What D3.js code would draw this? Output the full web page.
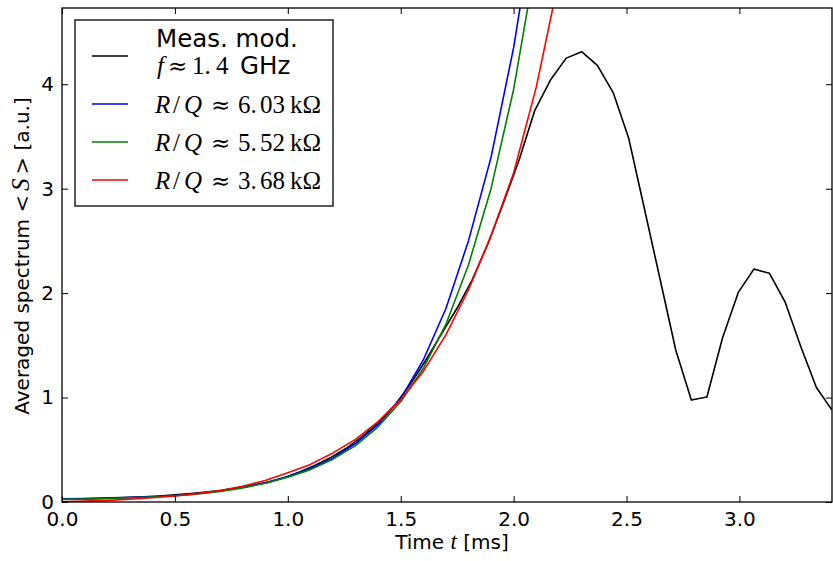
<!DOCTYPE html>
<html><head><meta charset="utf-8">
<script src="https://cdn.jsdelivr.net/npm/d3@7"></script>
<style>
body{margin:0;background:#fff;}
svg{display:block;}
text{font-family:"DejaVu Sans",sans-serif;fill:#000;}
.m{font-family:"Liberation Serif","DejaVu Serif",serif;}
.op{font-family:"DejaVu Serif",serif;}
</style></head><body>
<svg id="c" width="833" height="561"></svg>
<script>
// ---- data ----
const tMeas = [0.016,0.085,0.154,0.223,0.293,0.362,0.431,0.500,0.570,0.639,0.708,0.778,0.847,0.916,0.986,1.055,1.124,1.193,1.263,1.332,1.401,1.471,1.540,1.609,1.678,1.748,1.817,1.886,1.956,2.025,2.094,2.163,2.233,2.302,2.371,2.441,2.510,2.579,2.648,2.718,2.787,2.856,2.925,2.995,3.064,3.133,3.202,3.272,3.341,3.410];
const sMeas = [0.030,0.030,0.035,0.040,0.045,0.050,0.058,0.068,0.080,0.095,0.113,0.135,0.160,0.190,0.235,0.290,0.355,0.430,0.520,0.630,0.760,0.920,1.120,1.350,1.600,1.850,2.130,2.470,2.870,3.280,3.750,4.040,4.250,4.310,4.180,3.920,3.480,2.810,2.140,1.455,0.976,1.005,1.570,2.007,2.230,2.190,1.917,1.486,1.097,0.880];
const tModel = [0.0,0.1,0.2,0.3,0.4,0.5,0.6,0.7,0.8,0.9,1.0,1.1,1.2,1.3,1.4,1.5,1.6,1.7,1.8,1.9,2.0,2.1,2.2];
const sBlue  = [0.030,0.032,0.036,0.042,0.050,0.062,0.080,0.105,0.140,0.185,0.245,0.320,0.420,0.560,0.740,0.990,1.360,1.850,2.500,3.300,4.350,5.700,7.500];
const sGreen = [0.025,0.028,0.033,0.040,0.048,0.060,0.078,0.102,0.135,0.180,0.238,0.310,0.410,0.540,0.720,0.960,1.280,1.700,2.270,3.000,3.950,5.200,6.800];
const sRed   = [0.003,0.008,0.016,0.026,0.040,0.058,0.080,0.110,0.150,0.205,0.280,0.360,0.470,0.600,0.770,0.980,1.250,1.600,2.030,2.550,3.150,3.970,5.000];
const xTicks = [0.0,0.5,1.0,1.5,2.0,2.5,3.0];
const yTicks = [0,1,2,3,4];
const seriesColors = ["#000000","#0000ff","#008000","#ff0000"];
const rqValues = [["6.","03"],["5.","52"],["3.","68"]];

// ---- layout ----
const L=62,R=832,T=8,B=502;
const svg=d3.select("#c");
const x=d3.scaleLinear().domain([0,3.41]).range([L,R]);
const y=d3.scaleLinear().domain([0,4.73]).range([B,T]);

svg.append("clipPath").attr("id","clip").append("rect")
  .attr("x",L).attr("y",T).attr("width",R-L).attr("height",B-T);

const line=d3.line().x(d=>x(d[0])).y(d=>y(d[1]));
const g=svg.append("g").attr("clip-path","url(#clip)");
const series=[[tMeas,sMeas],[tModel,sBlue],[tModel,sGreen],[tModel,sRed]];
series.forEach((s,i)=>{
  g.append("path").datum(s[0].map((t,j)=>[t,s[1][j]]))
   .attr("d",line).attr("fill","none").attr("stroke",seriesColors[i])
   .attr("stroke-width",1.6).attr("stroke-linejoin","round");
});

// axes (ticks inside)
const fmt=d3.format(".1f");
const ax=svg.append("g");
const xb=ax.append("g").attr("transform",`translate(0,${B})`)
  .call(d3.axisBottom(x).tickValues(xTicks).tickFormat(fmt).tickSizeInner(-6).tickSizeOuter(0).tickPadding(10));
ax.append("g").attr("transform",`translate(0,${T})`)
  .call(d3.axisTop(x).tickValues(xTicks).tickFormat("").tickSizeInner(-6).tickSizeOuter(0));
ax.append("g").attr("transform",`translate(${L},0)`)
  .call(d3.axisLeft(y).tickValues(yTicks).tickFormat(d3.format("d")).tickSizeInner(-6).tickSizeOuter(0).tickPadding(8));
ax.append("g").attr("transform",`translate(${R},0)`)
  .call(d3.axisRight(y).tickValues(yTicks).tickFormat("").tickSizeInner(-6).tickSizeOuter(0));
ax.selectAll(".domain").remove();
ax.selectAll(".tick line").attr("stroke","#000").attr("stroke-width",1);
ax.selectAll(".tick text").attr("font-family","DejaVu Sans").attr("font-size",20).attr("fill","#000");
xb.selectAll(".tick text").attr("dy","0.71em");
svg.append("rect").attr("x",L).attr("y",T).attr("width",R-L).attr("height",B-T)
  .attr("fill","none").attr("stroke","#000").attr("stroke-width",1.3);

// axis labels
const xlab=svg.append("text").attr("x",452).attr("y",549).attr("text-anchor","middle").attr("font-size",20);
xlab.append("tspan").text("Time ");
xlab.append("tspan").attr("class","m").attr("font-style","italic").attr("font-size",23).text("t");
xlab.append("tspan").text(" [ms]");

const ylab=svg.append("text").attr("transform","translate(29,256) rotate(-90)").attr("text-anchor","middle").attr("font-size",20);
ylab.append("tspan").text("Averaged spectrum ");
ylab.append("tspan").attr("class","op").attr("font-size",21).text("<");
ylab.append("tspan").attr("class","m").attr("font-style","italic").attr("font-size",25).attr("dx",4).text("S");
ylab.append("tspan").attr("class","op").attr("font-size",21).attr("dx",4).text(">");
ylab.append("tspan").text(" [a.u.]");

// legend
const lg=svg.append("g");
lg.append("rect").attr("x",75).attr("y",20).attr("width",258).attr("height",186)
  .attr("fill","#fff").attr("stroke","#000").attr("stroke-width",1.3);
const rowsY=[56,104,142,180];
rowsY.forEach((yy,i)=>{
  lg.append("line").attr("x1",92).attr("x2",128).attr("y1",yy).attr("y2",yy)
    .attr("stroke",seriesColors[i]).attr("stroke-width",1.6);
});
lg.append("text").attr("x",156).attr("y",47).attr("font-size",24.5).text("Meas. mod.");
const f2y=74;
lg.append("text").attr("class","m").attr("x",157).attr("y",f2y).attr("font-size",25).attr("font-style","italic").text("f");
lg.append("text").attr("class","op").attr("x",168).attr("y",f2y).attr("font-size",23).text("≈");
lg.append("text").attr("class","m").attr("x",192).attr("y",f2y).attr("font-size",25).text("1.");
lg.append("text").attr("class","m").attr("x",216).attr("y",f2y).attr("font-size",25).text("4");
lg.append("text").attr("x",240).attr("y",f2y).attr("font-size",24.5).text("GHz");
rqValues.forEach((v,i)=>{
  const yy=rowsY[i+1]+9;
  const add=(xx,txt,it,cls)=>lg.append("text").attr("class",cls||"m").attr("x",xx).attr("y",yy)
     .attr("font-size",cls?23:25).attr("font-style",it?"italic":"normal").text(txt);
  add(155,"R",true);
  add(173,"/",false);
  add(184,"Q",true);
  add(211,"≈",false,"op");
  add(238,v[0],false);
  add(260,v[1],false);
  add(290,"kΩ",false);
});
</script></body></html>
